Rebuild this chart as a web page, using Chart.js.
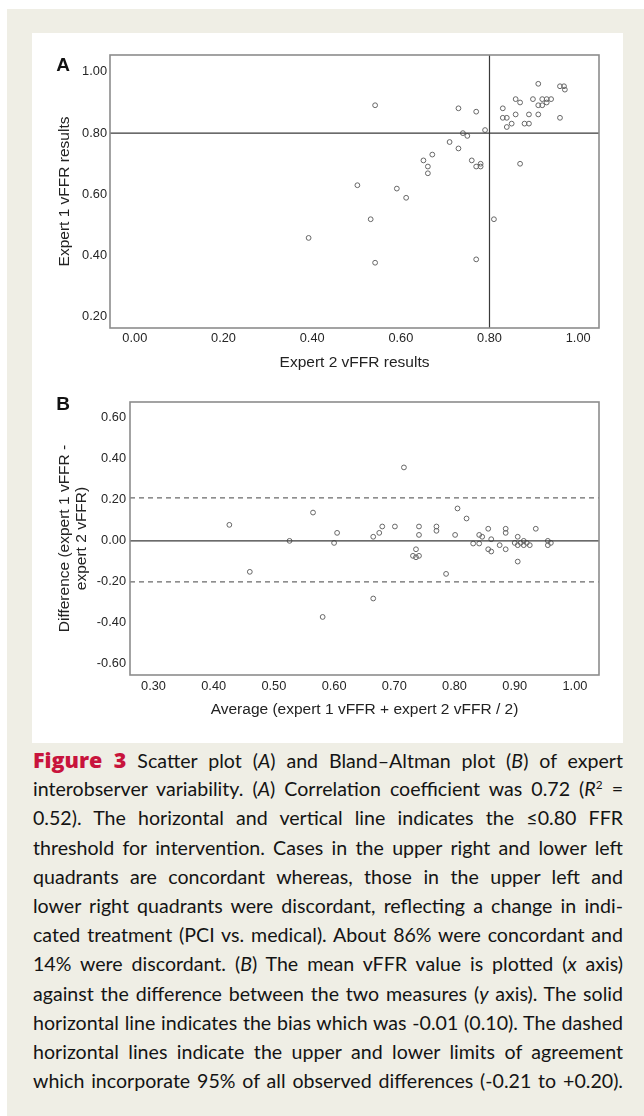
<!DOCTYPE html>
<html><head><meta charset="utf-8">
<script src="https://cdn.jsdelivr.net/npm/chart.js@4"></script>
<style>
html,body{margin:0;padding:0;background:#fff;}
body{width:644px;height:1116px;position:relative;overflow:hidden;}
#beige{position:absolute;left:7px;top:9px;width:637px;height:1107px;background:#efeee5;}
#panel{position:absolute;left:32px;top:33px;width:591px;height:710px;background:#fff;}
#panel canvas{position:absolute;left:0;}
.plab{position:absolute;font:bold 19px "Liberation Sans",Arial,sans-serif;color:#111;line-height:1;transform:translate(-50%,-50%);}
#caption{position:absolute;left:33px;top:745px;width:590px;font-family:Lato,"Open Sans",sans-serif;font-size:19.6px;color:#141414;}
.ln{height:29.2px;line-height:29.2px;text-align:justify;text-align-last:justify;overflow:visible;}
.fig{font-family:"Open Sans",sans-serif;font-weight:800;font-size:21.5px;color:#c8143c;}
sup{font-size:0.6em;line-height:0;vertical-align:0.6em;}
</style></head>
<body>
<div id="beige"></div>
<div id="panel">
  <canvas id="cA" width="591" height="345" style="top:0"></canvas>
  <canvas id="cB" width="591" height="365" style="top:345px"></canvas>
  <div class="plab" style="left:31px;top:31px">A</div>
  <div class="plab" style="left:31px;top:370px">B</div>
</div>
<div id="caption">
<div class="ln"><span class="fig">Figure 3</span> Scatter plot (<i>A</i>) and Bland–Altman plot (<i>B</i>) of expert</div>
<div class="ln">interobserver variability. (<i>A</i>) Correlation coefficient was 0.72 (<i>R</i><sup>2</sup> =</div>
<div class="ln">0.52). The horizontal and vertical line indicates the ≤0.80 FFR</div>
<div class="ln">threshold for intervention. Cases in the upper right and lower left</div>
<div class="ln">quadrants are concordant whereas, those in the upper left and</div>
<div class="ln">lower right quadrants were discordant, reflecting a change in indi-</div>
<div class="ln">cated treatment (PCI vs. medical). About 86% were concordant and</div>
<div class="ln">14% were discordant. (<i>B</i>) The mean vFFR value is plotted (<i>x</i> axis)</div>
<div class="ln">against the difference between the two measures (<i>y</i> axis). The solid</div>
<div class="ln">horizontal line indicates the bias which was -0.01 (0.10). The dashed</div>
<div class="ln">horizontal lines indicate the upper and lower limits of agreement</div>
<div class="ln">which incorporate 95% of all observed differences (-0.21 to +0.20).</div>
</div>
<script>
// ---- Panel A data: Expert 2 (x) vs Expert 1 (y)
const expert2A = [0.542,0.730,0.770,0.830,0.830,0.839,0.859,0.869,0.859,0.850,0.839,0.879,0.889,0.889,0.898,0.910,0.910,0.919,0.910,0.919,0.929,0.939,0.929,0.959,0.968,0.970,0.959,0.790,0.740,0.750,0.710,0.730,0.671,0.651,0.661,0.661,0.760,0.770,0.780,0.780,0.869,0.502,0.591,0.612,0.532,0.810,0.542,0.770,0.392];
const expert1A = [0.891,0.881,0.870,0.881,0.850,0.850,0.911,0.900,0.861,0.831,0.820,0.831,0.831,0.861,0.911,0.961,0.891,0.891,0.861,0.911,0.911,0.911,0.900,0.953,0.953,0.942,0.850,0.810,0.800,0.791,0.771,0.750,0.730,0.711,0.691,0.669,0.711,0.691,0.700,0.691,0.700,0.630,0.619,0.589,0.519,0.519,0.377,0.388,0.458];
const thresholdA = [0.80];
const xTicksA = [0.00,0.20,0.40,0.60,0.80,1.00];
const yTicksA = [0.20,0.40,0.60,0.80,1.00];
const xRangeA = [-0.056,1.047];
const yRangeA = [0.164,1.055];

// ---- Panel B data: mean (x) vs difference (y)
const meanB = [0.426,0.460,0.526,0.565,0.581,0.600,0.605,0.665,0.675,0.680,0.701,0.716,0.741,0.741,0.736,0.731,0.736,0.741,0.770,0.770,0.665,0.786,0.801,0.805,0.820,0.831,0.841,0.841,0.846,0.856,0.861,0.856,0.861,0.875,0.885,0.885,0.885,0.900,0.905,0.905,0.910,0.915,0.915,0.920,0.925,0.905,0.935,0.955,0.955,0.960];
const diffB = [0.078,-0.151,0.000,0.138,-0.371,-0.010,0.039,0.020,0.039,0.070,0.070,0.358,0.070,0.029,-0.041,-0.073,-0.080,-0.073,0.070,0.049,-0.281,-0.161,0.029,0.158,0.109,-0.013,-0.013,0.029,0.020,0.059,0.008,-0.041,-0.052,-0.021,0.059,0.039,-0.041,-0.010,0.020,-0.021,-0.010,0.000,-0.021,-0.010,-0.021,-0.101,0.059,0.000,-0.021,-0.010];
const biasB = [0.00];
const limitsB = [0.21,-0.20];
const xTicksB = [0.30,0.40,0.50,0.60,0.70,0.80,0.90,1.00];
const yTicksB = [-0.60,-0.40,-0.20,0.00,0.20,0.40,0.60];
const xRangeB = [0.261,1.040];
const yRangeB = [-0.654,0.677];

const FONT = '"Liberation Sans", Arial, sans-serif';
function axis(range, ticks, title, size, pad, tpad){
  return {
    type:'linear', min:range[0], max:range[1],
    afterBuildTicks: s => { s.ticks = ticks.map(v => ({value:v})); },
    afterFit: s => { if (s.isHorizontal()) s.height = size; else s.width = size; },
    grid:{display:false, drawTicks:false},
    border:{display:false},
    ticks:{padding:pad, color:'#262626', autoSkip:false, maxRotation:0,
      font:{family:FONT, size:12.8}, callback: v => Number(v).toFixed(2)},
    title:{display:true, text:title, color:'#222',
      font:{family:FONT, size:15.5, lineHeight:1.1}, padding:tpad}
  };
}
const frame = {id:'frame', afterDraw(c){
  const a = c.chartArea, x = c.ctx;
  x.save(); x.strokeStyle = '#8c8c8c'; x.lineWidth = 1.6;
  x.strokeRect(a.left, a.top, a.right - a.left, a.bottom - a.top); x.restore();
}};
const pts = (xs, ys) => xs.map((v,i) => ({x:v, y:ys[i]}));
const pointStyle = {pointRadius:2.4, pointBorderWidth:1, pointBorderColor:'#666',
  pointBackgroundColor:'rgba(0,0,0,0)', showLine:false};
const lineStyle = (color, dash) => ({pointRadius:0, showLine:true, borderColor:color,
  borderWidth:1.2, borderDash:dash || [], fill:false});
const common = {responsive:false, animation:false, events:[],
  plugins:{legend:{display:false}, tooltip:{enabled:false}}};

new Chart(document.getElementById('cA'), {
  type:'scatter',
  data:{datasets:[
    Object.assign({data: xRangeA.map(x => ({x, y:thresholdA[0]}))}, lineStyle('#3a3a3a')),
    Object.assign({data: yRangeA.map(y => ({x:thresholdA[0], y}))}, lineStyle('#3a3a3a')),
    Object.assign({data: pts(expert2A, expert1A)}, pointStyle)
  ]},
  options:Object.assign({}, common, {
    layout:{padding:{left:0, top:22, right:24, bottom:3}},
    scales:{
      x: axis(xRangeA, xTicksA, 'Expert 2 vFFR results', 47, 3, {top:0, bottom:3.5}),
      y: axis(yRangeA, yTicksA, 'Expert 1 vFFR results', 78, 3, {top:24.5, bottom:0})
    }
  }),
  plugins:[frame]
});

new Chart(document.getElementById('cB'), {
  type:'scatter',
  data:{datasets:[
    Object.assign({data: xRangeB.map(x => ({x, y:biasB[0]}))}, lineStyle('#3a3a3a')),
    Object.assign({data: xRangeB.map(x => ({x, y:limitsB[0]}))}, lineStyle('#6a6a6a',[5,4])),
    Object.assign({data: xRangeB.map(x => ({x, y:limitsB[1]}))}, lineStyle('#6a6a6a',[5,4])),
    Object.assign({data: pts(meanB, diffB)}, pointStyle)
  ]},
  options:Object.assign({}, common, {
    layout:{padding:{left:0, top:24, right:24, bottom:21}},
    scales:{
      x: axis(xRangeB, xTicksB, 'Average (expert 1 vFFR + expert 2 vFFR / 2)', 47, 4, {top:0, bottom:3.5}),
      y: axis(yRangeB, yTicksB, ['Difference (expert 1 vFFR -', 'expert 2 vFFR)'], 98, 4, {top:24.5, bottom:0})
    }
  }),
  plugins:[frame]
});

// keep each caption line on one line
document.querySelectorAll('.ln').forEach(el => {
  let ls = 0;
  while (el.offsetHeight > 35 && ls > -2) { ls -= 0.05; el.style.letterSpacing = ls + 'px'; }
});
</script>
</body></html>
